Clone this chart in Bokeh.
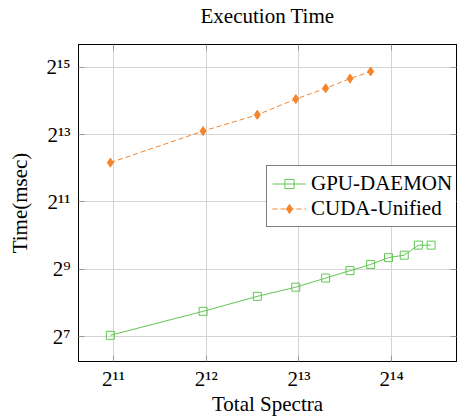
from bokeh.plotting import figure
from bokeh.models import (Range1d, FixedTicker, CustomJSTickFormatter, LogAxis)
from bokeh.embed import file_html
from bokeh.resources import INLINE

# Data
spectra_daemon = [2000, 4000, 6000, 8000, 10000, 12000, 14000, 16000, 18000, 20000, 22000]
time_daemon = [132, 216, 294, 355, 428, 499, 567, 652, 686, 843, 843]
spectra_unified = [2000, 4000, 6000, 8000, 10000, 12000, 14000]
time_unified = [4600, 8800, 12300, 17000, 21200, 25900, 30000]
x_tick_exps = [11, 12, 13, 14]
y_tick_exps = [7, 9, 11, 13, 15]
title_text = "Execution Time"

FONT = "Liberation Serif"
GREEN = "#62c653"
ORANGE = "#f5842a"

x_range = Range1d(1576, 26600)
y_range = Range1d(77, 52200)

p = figure(width=457, height=419, x_axis_type="log", y_axis_type="log",
           x_range=x_range, y_range=y_range,
           output_backend="svg", toolbar_location=None,
           min_border_left=78, min_border_right=1, min_border_top=42, min_border_bottom=58)

fmt = CustomJSTickFormatter(code="""
const sup = {'0':'\u2070','1':'\u00b9','2':'\u00b2','3':'\u00b3','4':'\u2074','5':'\u2075','6':'\u2076','7':'\u2077','8':'\u2078','9':'\u2079'};
const e = Math.round(Math.log2(tick));
return '2' + String(e).split('').map(c => sup[c]).join('');
""")
blank = CustomJSTickFormatter(code="return '';")

xt = FixedTicker(ticks=[2 ** e for e in x_tick_exps])
yt = FixedTicker(ticks=[2 ** e for e in y_tick_exps])

for ax, t in ((p.xaxis[0], xt), (p.yaxis[0], yt)):
    ax.ticker = t
    ax.formatter = fmt
    ax.major_tick_in = 6
    ax.major_tick_out = 0
    ax.minor_tick_in = 0
    ax.minor_tick_out = 0
    ax.major_tick_line_color = "#999999"
    ax.axis_line_color = "#000000"
    ax.axis_line_width = 1
    ax.major_label_text_font = FONT
    ax.major_label_text_font_size = "21px"
    ax.major_label_text_color = "#000000"
    ax.axis_label_text_font = FONT
    ax.axis_label_text_font_size = "21px"
    ax.axis_label_text_font_style = "normal"
    ax.axis_label_text_color = "#000000"

p.xaxis[0].axis_label = "Total Spectra"
p.yaxis[0].axis_label = "Time(msec)"
p.xaxis[0].major_label_standoff = 5
p.yaxis[0].major_label_standoff = 8
p.xaxis[0].axis_label_standoff = -2
p.yaxis[0].axis_label_standoff = 11

# top axis (ticks only) carries the chart title; right axis ticks only
top_ax = LogAxis(ticker=xt, formatter=blank, major_tick_in=6, major_tick_out=0,
                 minor_tick_in=0, minor_tick_out=0, major_tick_line_color="#999999",
                 axis_line_color="#000000", major_label_text_font_size="0px",
                 major_label_standoff=0, axis_label=title_text,
                 axis_label_standoff=17, axis_label_text_font=FONT,
                 axis_label_text_font_size="21px", axis_label_text_font_style="normal",
                 axis_label_text_color="#000000")
p.add_layout(top_ax, "above")
right_ax = LogAxis(ticker=yt, formatter=blank, major_tick_in=6, major_tick_out=0,
                   minor_tick_in=0, minor_tick_out=0, major_tick_line_color="#999999",
                   axis_line_color="#000000", major_label_text_font_size="0px",
                   major_label_standoff=0)
p.add_layout(right_ax, "right")

p.xgrid.ticker = xt
p.ygrid.ticker = yt
p.grid.grid_line_color = "#d4d4d4"
p.grid.grid_line_width = 1
p.outline_line_color = "#000000"
p.outline_line_alpha = 1

p.line(spectra_daemon, time_daemon, color=GREEN, line_width=1, legend_label="GPU-DAEMON")
p.scatter(spectra_daemon, time_daemon, marker="square", size=8, fill_color=None,
          line_color=GREEN, line_width=1, legend_label="GPU-DAEMON")
p.line(spectra_unified, time_unified, color=ORANGE, line_width=1, line_dash="5 3",
       legend_label="CUDA-Unified")
p.scatter(spectra_unified, time_unified, marker="diamond", size=9, fill_color=ORANGE,
          line_color=ORANGE, legend_label="CUDA-Unified")

lg = p.legend[0]
lg.location = (188, 134)
lg.label_text_font = FONT
lg.label_text_font_size = "21px"
lg.label_text_color = "#000000"
lg.border_line_color = "#000000"
lg.border_line_width = 1
lg.background_fill_alpha = 1
lg.padding = 5
lg.spacing = 0
lg.margin = 0
lg.glyph_width = 34
lg.glyph_height = 23
lg.label_height = 23
lg.label_standoff = 5

open("out.html", "w").write(file_html(p, INLINE))
